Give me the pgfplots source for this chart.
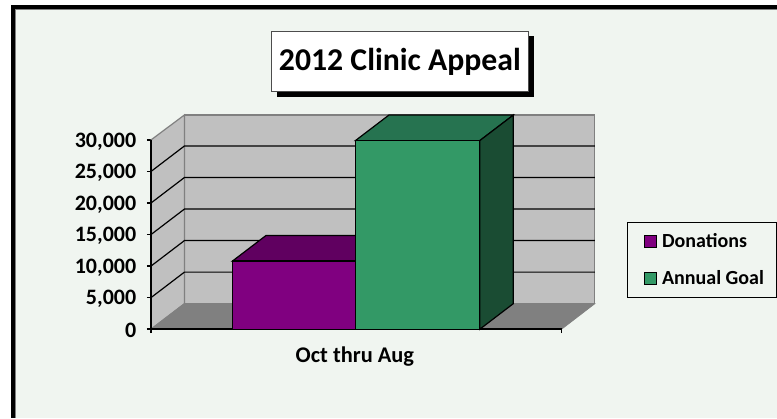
\documentclass[border=0pt]{standalone}
\usepackage{pgfplots}
\pgfplotsset{compat=1.18}
\usepackage{fontspec}
\setmainfont{Carlito}
\definecolor{panelbg}{HTML}{F0F5F0}
\definecolor{wallgray}{HTML}{C0C0C0}
\definecolor{floorgray}{HTML}{808080}
\definecolor{purplefront}{HTML}{800080}
\definecolor{purpletop}{HTML}{600060}
\definecolor{greenfront}{HTML}{339966}
\definecolor{greentop}{HTML}{267350}
\definecolor{greenside}{HTML}{1A4C33}
\def\px{0.75pt}
\begin{document}
\begin{tikzpicture}
% page and frame, y measured from the bottom of the 777x418 image
\fill[white] (0,0) rectangle (777*\px,418*\px);
\fill[panelbg] (11*\px,0) rectangle (777*\px,413*\px);
\fill[black] (11*\px,0) rectangle (15*\px,413*\px);
\fill[black] (11*\px,409*\px) rectangle (777*\px,413*\px);
\draw[gray,line width=0.5*\px] (15*\px,0) -- (15*\px,408.6*\px) -- (777*\px,408.6*\px);
% title box with shadow
\fill[black] (277*\px,321.3*\px) rectangle (534*\px,382*\px);
\node[draw=black!70,fill=white,line width=1*\px,inner sep=0pt,
  minimum width=256.6*\px,minimum height=60.7*\px,font=\bfseries\fontsize{23.8}{28}\selectfont]
  at (400*\px,356.6*\px) {2012 Clinic Appeal};
\begin{axis}[
    at={(151*\px,88.7*\px)},
    anchor=south west,
    scale only axis,
    width=444*\px,
    height=214.3*\px,
    xmin=0, xmax=1.0811,
    ymin=0, ymax=33964,
    axis line style={draw=none},
    ytick={0,5000,10000,15000,20000,25000,30000},
    yticklabel style={/pgf/number format/1000 sep={,},/pgf/number format/assume math mode=true},
    scaled y ticks=false,
    xtick={0,1},
    xticklabels={},
    xlabel={Oct thru Aug},
    xlabel style={at={(axis cs:0.4967,0)},anchor=north,yshift=-13*\px,font=\bfseries\fontsize{16.8}{20}\selectfont},
    tick style={draw=black,line width=1.4*\px},
    tick align=outside,
    xtick pos=bottom,
    ytick pos=left,
    major tick length=4*\px,
    tick label style={font=\bfseries\fontsize{16.5}{20}\selectfont},
    y tick label style={xshift=-6*\px,yshift=-1.5*\px},
    clip=false,
    axis on top=false,
    legend style={
        at={(1.0727,0.502)},
        anchor=north west,
        draw=black,
        line width=0.9*\px,
        fill=panelbg,
        font=\bfseries\fontsize{15}{18}\selectfont,
        inner xsep=9.5*\px,
        inner ysep=8.5*\px,
        row sep=16*\px,
    },
    legend cell align=left,
    legend image code/.code={
        \path (0,0);
        \draw[#1,draw=black,line width=0.9*\px] (6.5*\px,-6*\px) rectangle (18.5*\px,6*\px);
        \path (21.5*\px,0);
    },
]
% back wall
\addplot[forget plot,draw=floorgray,line width=1.2*\px,fill=wallgray] coordinates {(0.0816,4050)(1.0811,4050)(1.0811,33964)(0.0816,33964)} -- cycle;
% left wall
\addplot[forget plot,draw=floorgray,line width=1.2*\px,fill=wallgray] coordinates {(0,0)(0.0816,4050)(0.0816,33964)(0,30000)} -- cycle;
% floor
\addplot[forget plot,draw=floorgray,line width=0.8*\px,fill=floorgray] coordinates {(0,0)(1,0)(1.0811,4050)(0.0816,4050)} -- cycle;
% grid lines along the wall
\pgfplotsinvokeforeach{5000,10000,15000,20000,25000}{
  \addplot[forget plot,black,line width=1.2*\px] coordinates {(0,#1)(0.0816,#1+4050)(1.0811,#1+4050)};
}
% axis lines on the front plane
\addplot[forget plot,black,line width=1.4*\px] coordinates {(0,30000)(0,0)(1,0)};
% purple bar
\addplot[forget plot,draw=black,line width=1.2*\px,fill=purpletop] coordinates {(0.1985,10800)(0.498,10800)(0.5796,14850)(0.2801,14850)} -- cycle;
\addplot[ybar,bar width=0.2995,bar shift=0pt,draw=black,line width=1.2*\px,fill=purplefront,forget plot] coordinates {(0.34825,10800)};
% green bar
\addplot[forget plot,draw=black,line width=1.2*\px,fill=greentop] coordinates {(0.498,29900)(0.801,29900)(0.8826,33950)(0.5796,33950)} -- cycle;
\addplot[forget plot,draw=black,line width=1.2*\px,fill=greenside] coordinates {(0.801,0)(0.8826,4050)(0.8826,33950)(0.801,29900)} -- cycle;
\addplot[ybar,bar width=0.303,bar shift=0pt,draw=black,line width=1.2*\px,fill=greenfront,forget plot] coordinates {(0.6495,29900)};
\addlegendimage{fill=purplefront}
\addlegendentry{Donations}
\addlegendimage{fill=greenfront}
\addlegendentry{Annual Goal}
\end{axis}
\end{tikzpicture}
\end{document}
